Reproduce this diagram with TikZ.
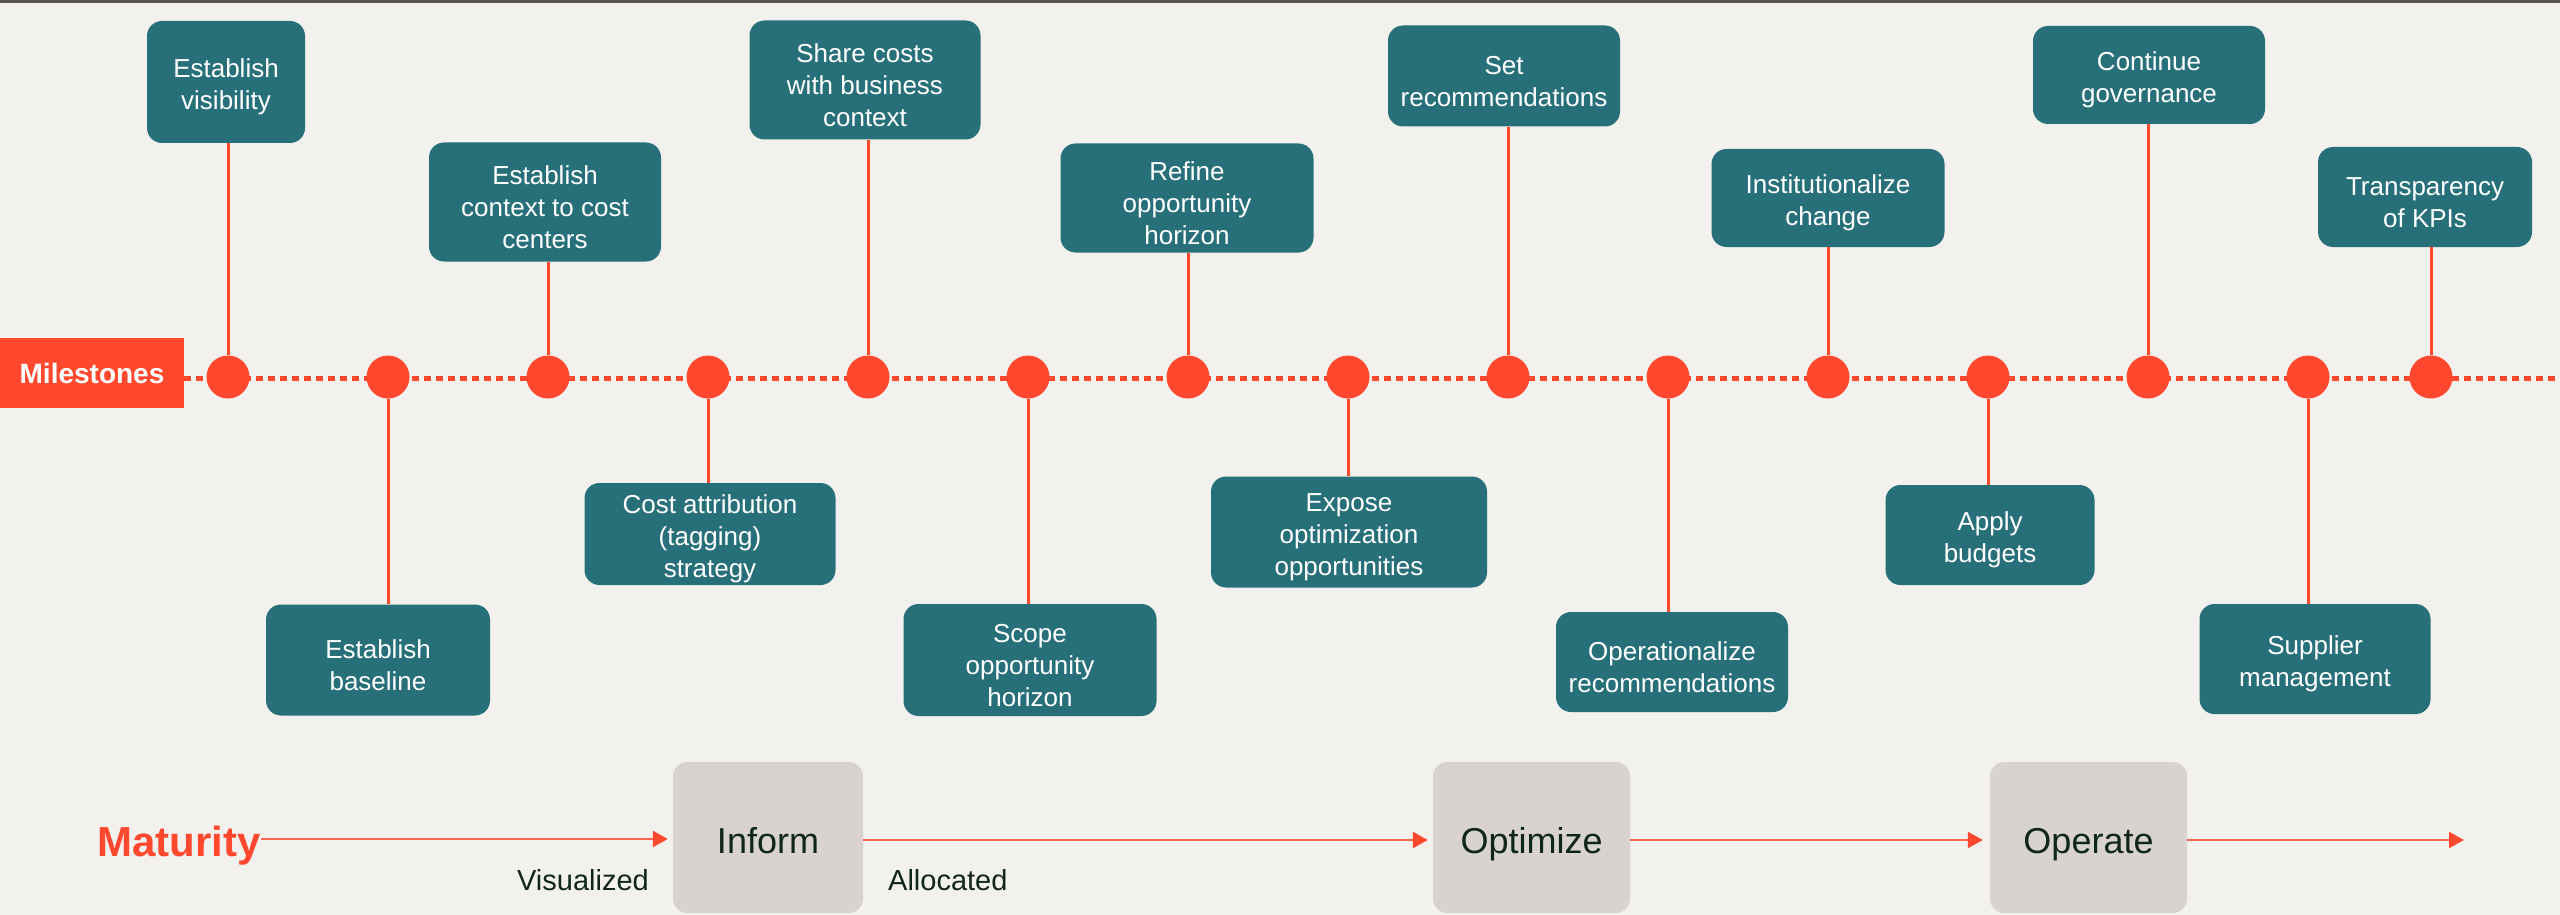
\documentclass[tikz,border=0pt]{standalone}
\usepackage{fontspec}
\setmainfont{Liberation Sans}
\usetikzlibrary{arrows.meta}
\definecolor{bgc}{HTML}{F2F1ED}
\definecolor{mteal}{HTML}{27707A}
\definecolor{mred}{HTML}{FF482D}
\definecolor{mline}{HTML}{FF6650}
\definecolor{mgray}{HTML}{D8D3CF}
\definecolor{mdark}{HTML}{10261A}
\definecolor{mtop}{HTML}{5A5550}
\newcommand{\tstrut}{\rule{0pt}{29pt}}
\begin{document}
\begin{tikzpicture}[x=1pt,y=-1pt,
  mbox/.style={fill=mteal, rounded corners=15pt, text=white, align=center, inner sep=0pt, font=\fontsize{26}{32}\selectfont},
  dot/.style={circle, fill=mred, minimum size=43pt, inner sep=0pt},
  conn/.style={draw=mred, line width=3pt},
  phase/.style={fill=mgray, rounded corners=14pt, text=mdark, font=\fontsize{36}{42}\selectfont, minimum height=151pt, inner sep=0pt, text height=32pt, text depth=0pt},
  flow/.style={draw=mline, line width=2.5pt, -{Triangle[length=15pt,width=16pt,fill=mred,color=mred]}},
  lbl/.style={text=mdark, font=\fontsize{29}{34}\selectfont, inner sep=0pt}
]
\fill[bgc] (0,0) rectangle (2560,915);
\useasboundingbox (0,0) rectangle (2560,915);
\draw[mtop, line width=3pt] (0,1.5) -- (2560,1.5);

% Milestones
\node[fill=mred, text=white, font=\bfseries\fontsize{28}{34}\selectfont, minimum width=184pt, minimum height=70pt, inner sep=0pt] (ms) at (92,373) {Milestones};
\coordinate (lstart) at (184,378);
\coordinate (lend) at (2560,378);
\draw[mred, line width=5pt, dash pattern=on 7pt off 5pt] (lstart) -- (lend);

% milestone dots
\node[dot] (c1) at (228,377) {};
\node[dot] (c2) at (388,377) {};
\node[dot] (c3) at (548,377) {};
\node[dot] (c4) at (708,377) {};
\node[dot] (c5) at (868,377) {};
\node[dot] (c6) at (1028,377) {};
\node[dot] (c7) at (1188,377) {};
\node[dot] (c8) at (1348,377) {};
\node[dot] (c9) at (1508,377) {};
\node[dot] (c10) at (1668,377) {};
\node[dot] (c11) at (1828,377) {};
\node[dot] (c12) at (1988,377) {};
\node[dot] (c13) at (2148,377) {};
\node[dot] (c14) at (2308,377) {};
\node[dot] (c15) at (2431,377) {};

% milestone boxes
\node[mbox, minimum width=158pt, minimum height=122pt] (b1) at (226,82) {\tstrut Establish\\visibility};
\node[mbox, minimum width=224pt, minimum height=111pt] (b2) at (378,660) {\tstrut Establish\\baseline};
\node[mbox, minimum width=232pt, minimum height=119pt] (b3) at (545,202) {\tstrut Establish\\context to cost\\centers};
\node[mbox, minimum width=251pt, minimum height=102pt] (b4) at (710,534) {\tstrut Cost attribution\\(tagging)\\strategy};
\node[mbox, minimum width=231pt, minimum height=119pt] (b5) at (865,80) {\tstrut Share costs\\with business\\context};
\node[mbox, minimum width=253pt, minimum height=112pt] (b6) at (1030,660) {\tstrut Scope\\opportunity\\horizon};
\node[mbox, minimum width=253pt, minimum height=109pt] (b7) at (1187,198) {\tstrut Refine\\opportunity\\horizon};
\node[mbox, minimum width=276pt, minimum height=111pt] (b8) at (1349,532) {\tstrut Expose\\optimization\\opportunities};
\node[mbox, minimum width=232pt, minimum height=101pt] (b9) at (1504,76) {\tstrut Set\\recommendations};
\node[mbox, minimum width=232pt, minimum height=100pt] (b10) at (1672,662) {\tstrut Operationalize\\recommendations};
\node[mbox, minimum width=233pt, minimum height=98pt] (b11) at (1828,198) {\tstrut Institutionalize\\change};
\node[mbox, minimum width=209pt, minimum height=100pt] (b12) at (1990,535) {\tstrut Apply\\budgets};
\node[mbox, minimum width=232pt, minimum height=98pt] (b13) at (2149,75) {\tstrut Continue\\governance};
\node[mbox, minimum width=231pt, minimum height=110pt] (b14) at (2315,659) {\tstrut Supplier\\management};
\node[mbox, minimum width=214pt, minimum height=100pt] (b15) at (2425,197) {\tstrut Transparency\\of KPIs};

% connectors (vertical)
\foreach \i in {1,3,5,7,9,11,13,15} {\draw[conn] (c\i) -- (c\i |- b\i.south);}
\foreach \i in {2,4,6,8,10,12,14} {\draw[conn] (c\i) -- (c\i |- b\i.north);}

% maturity row
\node[text=mred, font=\bfseries\fontsize{42}{50}\selectfont, anchor=base west, inner sep=0pt] (mat) at (97,856) {Maturity};
\node[phase, minimum width=190pt] (inf) at (768,837.5) {Inform};
\node[phase, minimum width=197pt] (opt) at (1531.5,837.5) {Optimize};
\node[phase, minimum width=197pt] (ope) at (2088.5,837.5) {Operate};
\coordinate (fend) at (2464,840);
\draw[flow, shorten >=5pt] (mat.east |- 0,839) -- (inf.west |- 0,839);
\draw[flow, shorten >=5pt] (inf.east |- 0,840) -- (opt.west |- 0,840);
\draw[flow, shorten >=7pt] (opt.east |- 0,840) -- (ope.west |- 0,840);
\draw[flow] (ope.east |- fend) -- (fend);
\node[lbl, anchor=base east] (vis) at (649,890) {Visualized};
\node[lbl, anchor=base west] (all) at (888,890) {Allocated};
\end{tikzpicture}
\end{document}
